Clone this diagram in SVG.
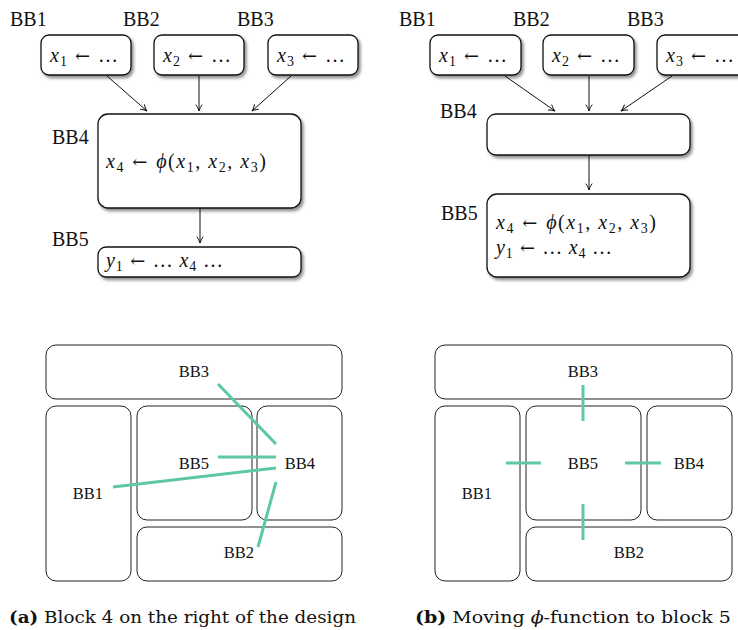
<svg xmlns="http://www.w3.org/2000/svg" width="738" height="630" viewBox="0 0 738 630">
<style>
text{font-family:"Liberation Serif","DejaVu Serif",serif;fill:#111}
.lbl{font-size:20px}
.m{font-size:20px}
.it{font-style:italic}
.sub{font-size:14px}
.ar{font-family:"DejaVu Serif",serif;font-size:18px}
.box{fill:#fff;stroke:#111;stroke-width:1.3}
.pbox{fill:#fff;stroke:#222;stroke-width:1}
.pl{font-size:16.5px;text-anchor:middle}
.arr{stroke:#111;stroke-width:1;fill:none;marker-end:url(#ah)}
.g{stroke:#5ec8a2;stroke-width:3;fill:none}
.cap{font-family:"DejaVu Serif",serif;font-size:16.5px}
</style>
<defs>
<filter id="sh" x="-20%" y="-20%" width="140%" height="150%">
<feDropShadow dx="2" dy="2.5" stdDeviation="1.5" flood-color="#000" flood-opacity="0.45"/>
</filter>
<marker id="ah" viewBox="0 0 10 10" refX="9" refY="5" markerWidth="8" markerHeight="8" orient="auto" markerUnits="userSpaceOnUse">
<path d="M1,1 Q5,4 9,5 Q5,6 1,9" fill="none" stroke="#111" stroke-width="1.2"/>
</marker>
</defs>

<!-- Panel (a) top -->
<g id="a-bb1">
<text class="lbl" x="10" y="26">BB1</text>
<rect class="box" filter="url(#sh)" x="41" y="35" width="90" height="40" rx="8"/>
<text class="m" x="50" y="62" textLength="68" lengthAdjust="spacing"><tspan class="it">x</tspan><tspan class="sub" dy="4">1</tspan><tspan class="ar" dy="-4"> ← </tspan><tspan>…</tspan></text>
</g>
<g id="a-bb2">
<text class="lbl" x="123" y="26">BB2</text>
<rect class="box" filter="url(#sh)" x="154" y="35" width="90" height="40" rx="8"/>
<text class="m" x="163" y="62" textLength="68" lengthAdjust="spacing"><tspan class="it">x</tspan><tspan class="sub" dy="4">2</tspan><tspan class="ar" dy="-4"> ← </tspan><tspan>…</tspan></text>
</g>
<g id="a-bb3">
<text class="lbl" x="237" y="26">BB3</text>
<rect class="box" filter="url(#sh)" x="268" y="35" width="90" height="40" rx="8"/>
<text class="m" x="277" y="62" textLength="68" lengthAdjust="spacing"><tspan class="it">x</tspan><tspan class="sub" dy="4">3</tspan><tspan class="ar" dy="-4"> ← </tspan><tspan>…</tspan></text>
</g>
<g id="a-bb4">
<text class="lbl" x="52" y="144">BB4</text>
<rect class="box" filter="url(#sh)" x="98" y="114" width="203" height="94" rx="10"/>
<text class="m" x="106" y="168" textLength="160" lengthAdjust="spacing"><tspan class="it">x</tspan><tspan class="sub" dy="4">4</tspan><tspan class="ar" dy="-4"> ← </tspan><tspan class="it">ϕ</tspan><tspan>(</tspan><tspan class="it">x</tspan><tspan class="sub" dy="4">1</tspan><tspan dy="-4">, </tspan><tspan class="it">x</tspan><tspan class="sub" dy="4">2</tspan><tspan dy="-4">, </tspan><tspan class="it">x</tspan><tspan class="sub" dy="4">3</tspan><tspan dy="-4">)</tspan></text>
</g>
<g id="a-bb5">
<text class="lbl" x="52" y="246">BB5</text>
<rect class="box" filter="url(#sh)" x="98" y="247" width="203" height="30" rx="8"/>
<text class="m" x="106" y="267" textLength="117" lengthAdjust="spacing"><tspan class="it">y</tspan><tspan class="sub" dy="4">1</tspan><tspan class="ar" dy="-4"> ← </tspan><tspan>… </tspan><tspan class="it">x</tspan><tspan class="sub" dy="4">4</tspan><tspan dy="-4"> …</tspan></text>
</g>

<!-- Panel (b) top -->
<g id="b-bb1">
<text class="lbl" x="399" y="26">BB1</text>
<rect class="box" filter="url(#sh)" x="430" y="35" width="91" height="40" rx="8"/>
<text class="m" x="439" y="62" textLength="68" lengthAdjust="spacing"><tspan class="it">x</tspan><tspan class="sub" dy="4">1</tspan><tspan class="ar" dy="-4"> ← </tspan><tspan>…</tspan></text>
</g>
<g id="b-bb2">
<text class="lbl" x="513" y="26">BB2</text>
<rect class="box" filter="url(#sh)" x="543" y="35" width="91" height="40" rx="8"/>
<text class="m" x="552" y="62" textLength="68" lengthAdjust="spacing"><tspan class="it">x</tspan><tspan class="sub" dy="4">2</tspan><tspan class="ar" dy="-4"> ← </tspan><tspan>…</tspan></text>
</g>
<g id="b-bb3">
<text class="lbl" x="627" y="26">BB3</text>
<rect class="box" filter="url(#sh)" x="657" y="35" width="91" height="40" rx="8"/>
<text class="m" x="666" y="62" textLength="68" lengthAdjust="spacing"><tspan class="it">x</tspan><tspan class="sub" dy="4">3</tspan><tspan class="ar" dy="-4"> ← </tspan><tspan>…</tspan></text>
</g>
<g id="b-bb4">
<text class="lbl" x="440" y="118">BB4</text>
<rect class="box" filter="url(#sh)" x="487" y="114" width="203" height="41" rx="9"/>
</g>
<g id="b-bb5">
<text class="lbl" x="441" y="220">BB5</text>
<rect class="box" filter="url(#sh)" x="487" y="194" width="203" height="83" rx="10"/>
<text class="m" x="496" y="229" textLength="160" lengthAdjust="spacing"><tspan class="it">x</tspan><tspan class="sub" dy="4">4</tspan><tspan class="ar" dy="-4"> ← </tspan><tspan class="it">ϕ</tspan><tspan>(</tspan><tspan class="it">x</tspan><tspan class="sub" dy="4">1</tspan><tspan dy="-4">, </tspan><tspan class="it">x</tspan><tspan class="sub" dy="4">2</tspan><tspan dy="-4">, </tspan><tspan class="it">x</tspan><tspan class="sub" dy="4">3</tspan><tspan dy="-4">)</tspan></text>
<text class="m" x="496" y="254" textLength="116" lengthAdjust="spacing"><tspan class="it">y</tspan><tspan class="sub" dy="4">1</tspan><tspan class="ar" dy="-4"> ← </tspan><tspan>… </tspan><tspan class="it">x</tspan><tspan class="sub" dy="4">4</tspan><tspan dy="-4"> …</tspan></text>
</g>

<g id="connectors">
<line class="arr" x1="107" y1="76" x2="147" y2="111"/>
<line class="arr" x1="199" y1="76" x2="199" y2="111"/>
<line class="arr" x1="291" y1="76" x2="252" y2="111"/>
<line class="arr" x1="200" y1="208" x2="200" y2="243"/>
<line class="arr" x1="505" y1="76" x2="555" y2="111"/>
<line class="arr" x1="589" y1="76" x2="589" y2="111"/>
<line class="arr" x1="672" y1="76" x2="621" y2="111"/>
<line class="arr" x1="589" y1="155" x2="589" y2="190"/>
</g>

<!-- Panel (a) bottom plan -->
<g id="pa-bb3"><rect class="pbox" x="46" y="345" width="296" height="54" rx="10"/><text class="pl" x="194" y="377">BB3</text></g>
<g id="pa-bb1"><rect class="pbox" x="46" y="406" width="85" height="175" rx="10"/><text class="pl" x="88" y="499">BB1</text></g>
<g id="pa-bb5"><rect class="pbox" x="137" y="406" width="115" height="114" rx="10"/><text class="pl" x="194" y="469">BB5</text></g>
<g id="pa-bb4"><rect class="pbox" x="257" y="406" width="85" height="114" rx="10"/><text class="pl" x="300" y="469">BB4</text></g>
<g id="pa-bb2"><rect class="pbox" x="137" y="527" width="205" height="54" rx="10"/><text class="pl" x="239" y="558">BB2</text></g>
<g id="pa-links">
<line class="g" x1="218" y1="384" x2="276" y2="444"/>
<line class="g" x1="218" y1="457" x2="276" y2="457"/>
<line class="g" x1="113" y1="487" x2="276" y2="468"/>
<line class="g" x1="258" y1="547" x2="276" y2="482"/>
</g>

<!-- Panel (b) bottom plan -->
<g id="pb-bb3"><rect class="pbox" x="435" y="345" width="297" height="54" rx="10"/><text class="pl" x="583" y="377">BB3</text></g>
<g id="pb-bb1"><rect class="pbox" x="435" y="406" width="85" height="175" rx="10"/><text class="pl" x="477" y="499">BB1</text></g>
<g id="pb-bb5"><rect class="pbox" x="526" y="406" width="115" height="114" rx="10"/><text class="pl" x="583" y="469">BB5</text></g>
<g id="pb-bb4"><rect class="pbox" x="647" y="406" width="85" height="114" rx="10"/><text class="pl" x="689" y="469">BB4</text></g>
<g id="pb-bb2"><rect class="pbox" x="526" y="527" width="206" height="54" rx="10"/><text class="pl" x="629" y="558">BB2</text></g>
<g id="pb-links">
<line class="g" x1="583" y1="385" x2="583" y2="421"/>
<line class="g" x1="506" y1="463" x2="541" y2="463"/>
<line class="g" x1="625" y1="463" x2="661" y2="463"/>
<line class="g" x1="583" y1="504" x2="583" y2="540"/>
</g>

<g id="captions">
<text class="cap" x="9" y="623" textLength="347" lengthAdjust="spacingAndGlyphs"><tspan font-weight="bold">(a)</tspan> Block 4 on the right of the design</text>
<text class="cap" x="415" y="623" textLength="316" lengthAdjust="spacingAndGlyphs"><tspan font-weight="bold">(b)</tspan> Moving <tspan class="it">ϕ</tspan>-function to block 5</text>
</g>
</svg>
